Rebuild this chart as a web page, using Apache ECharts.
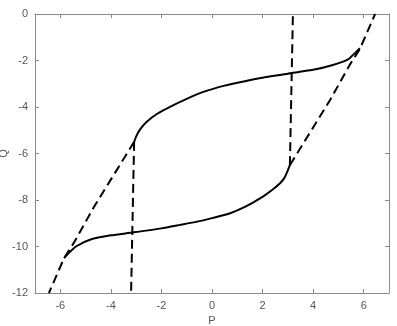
<!DOCTYPE html>
<html><head><meta charset="utf-8">
<script src="https://cdn.jsdelivr.net/npm/echarts@6/dist/echarts.min.js"></script>
<style>html,body{margin:0;padding:0;background:#fff}#c{width:397px;height:326px}</style>
</head><body><div id="c"></div>
<script>
const xTicks = [-6, -4, -2, 0, 2, 4, 6];
const upperP = [-3.08, -2.97, -2.8, -2.58, -2.18, -1.66, -1.0, -0.34, 0.5, 1.3, 2.0, 3.0, 3.47, 4.0, 4.78, 5.38, 5.71, 5.85];
const upperQ = [-5.5, -5.2, -4.9, -4.63, -4.3, -3.99, -3.65, -3.35, -3.08, -2.89, -2.74, -2.57, -2.48, -2.4, -2.19, -1.95, -1.62, -1.47];
const lowerP = [-5.85, -5.71, -5.38, -4.8, -4.0, -3.17, -2.0, -1.26, -0.59, 0.0, 0.72, 1.3, 1.95, 2.4, 2.69, 2.85, 2.97, 3.08];
const lowerQ = [-10.5, -10.33, -10.0, -9.7, -9.52, -9.4, -9.22, -9.07, -8.93, -8.78, -8.57, -8.3, -7.9, -7.55, -7.28, -7.07, -6.8, -6.5];
const rightVertP = [3.08, 3.2];
const rightVertQ = [-6.5, 0];
const leftVertP = [-3.08, -3.2];
const leftVertQ = [-5.5, -12];
const rightDiagP = [3.08, 4.67, 5.44, 5.85, 6.45];
const rightDiagQ = [-6.5, -3.7, -2.2, -1.5, 0];
const leftDiagP = [-3.08, -4.67, -5.44, -5.85, -6.45];
const leftDiagQ = [-5.5, -8.3, -9.8, -10.5, -12];

const zip = (a, b) => a.map((v, i) => [v, b[i]]);
const axisCol = '#8a8a8a', txtCol = '#555';
const solid = (p, q) => ({type:'line', data: zip(p,q), showSymbol:false, smooth:0.2,
  lineStyle:{color:'#000', width:2}, xAxisIndex:0, yAxisIndex:0});
const dashed = (p, q) => ({type:'line', data: zip(p,q), showSymbol:false,
  lineStyle:{color:'#000', width:2, type:[9,5]}, xAxisIndex:0, yAxisIndex:0});

const chart = echarts.init(document.getElementById('c'), null, {renderer:'canvas'});
chart.setOption({
  animation:false,
  grid:{left:35, right:8, top:14, bottom:33, containLabel:false, outerBoundsMode:'none'},
  xAxis:[{type:'value', min:-7, max:7, position:'bottom',
    name:'P', nameLocation:'middle', nameGap:22, nameMoveOverlap:false,
    nameTextStyle:{color:txtCol, fontSize:11, fontFamily:'Liberation Sans'},
    axisLine:{show:true, onZero:false, lineStyle:{color:axisCol, width:1}},
    axisTick:{show:true, inside:true, length:4, customValues:xTicks, lineStyle:{color:axisCol}},
    axisLabel:{show:true, customValues:xTicks, color:txtCol, fontSize:11, fontFamily:'Liberation Sans', margin:7},
    splitLine:{show:false}},
   {type:'value', min:-7, max:7, position:'top',
    axisLine:{show:true, onZero:false, lineStyle:{color:axisCol, width:1}},
    axisTick:{show:true, inside:true, length:4, customValues:xTicks, lineStyle:{color:axisCol}},
    axisLabel:{show:false}, splitLine:{show:false}}],
  yAxis:[{type:'value', min:-12, max:0, interval:2, position:'left',
    name:'Q', nameLocation:'middle', nameGap:26, nameRotate:90, nameMoveOverlap:false,
    nameTextStyle:{color:txtCol, fontSize:11, fontFamily:'Liberation Sans'},
    axisLine:{show:true, onZero:false, lineStyle:{color:axisCol, width:1}},
    axisTick:{show:true, inside:true, length:4, lineStyle:{color:axisCol}},
    axisLabel:{show:true, color:txtCol, fontSize:11, fontFamily:'Liberation Sans', margin:7},
    splitLine:{show:false}},
   {type:'value', min:-12, max:0, interval:2, position:'right',
    axisLine:{show:true, onZero:false, lineStyle:{color:axisCol, width:1}},
    axisTick:{show:true, inside:true, length:4, lineStyle:{color:axisCol}},
    axisLabel:{show:false}, splitLine:{show:false}}],
  series:[
    solid(upperP, upperQ),
    solid(lowerP, lowerQ),
    dashed(rightVertP, rightVertQ),
    dashed(leftVertP, leftVertQ),
    dashed(rightDiagP, rightDiagQ),
    dashed(leftDiagP, leftDiagQ)
  ]
});
</script></body></html>
